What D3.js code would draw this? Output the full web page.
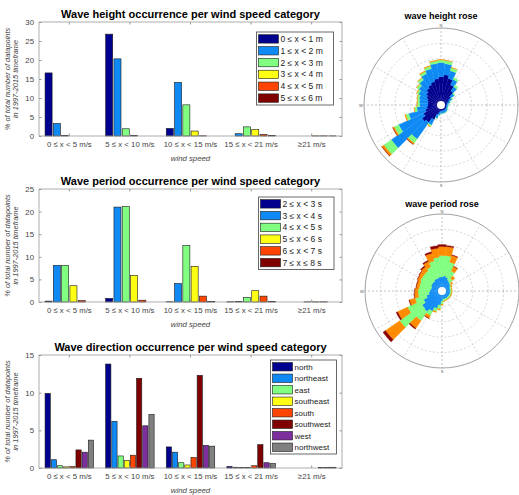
<!DOCTYPE html>
<html>
<head>
<meta charset="utf-8">
<script src="https://cdn.jsdelivr.net/npm/d3@7"></script>
<style>
  body { margin: 0; background: #fff; }
  svg { display: block; font-family: "Liberation Sans", Arial, sans-serif; }
</style>
</head>
<body>
<div id="chart"></div>
<script>
// wind speed classes (x axis of the three bar charts)
const windCats = ["0 ≤ x < 5 m/s", "5 ≤ x < 10 m/s", "10 ≤ x < 15 m/s", "15 ≤ x < 21 m/s", "≥21 m/s"];

// wave height classes, one row per class, one value per wind class (%)
const heightCats = ["0 ≤ x < 1 m", "1 ≤ x < 2 m", "2 ≤ x < 3 m", "3 ≤ x < 4 m", "4 ≤ x < 5 m", "5 ≤ x ≤ 6 m"];
const heightValues = [
  [16.6, 26.8, 2.0, 0, 0],
  [3.3, 20.3, 14.1, 0.6, 0],
  [0.1, 1.9, 8.2, 2.4, 0],
  [0, 0.1, 1.3, 1.7, 0.04],
  [0, 0, 0.05, 0.4, 0.04],
  [0, 0, 0, 0.1, 0.03]
];

// wave period classes
const periodCats = ["2 ≤ x < 3 s", "3 ≤ x < 4 s", "4 ≤ x < 5 s", "5 ≤ x < 6 s", "6 ≤ x < 7 s", "7 ≤ x ≤ 8 s"];
const periodValues = [
  [0.2, 0.8, 0.05, 0.05, 0],
  [8.1, 21.0, 4.1, 0.1, 0],
  [8.1, 21.1, 12.5, 1.0, 0.04],
  [3.6, 5.9, 7.9, 2.5, 0.04],
  [0.3, 0.4, 1.3, 1.3, 0.04],
  [0, 0, 0.1, 0.1, 0]
];

// wave direction classes
const dirCats = ["north", "northeast", "east", "southeast", "south", "southwest", "west", "northwest"];
const dirValues = [
  [9.9, 13.8, 2.8, 0.2, 0],
  [1.1, 6.2, 2.1, 0.1, 0],
  [0.3, 1.6, 0.7, 0.05, 0],
  [0.15, 1.0, 0.4, 0.05, 0],
  [0.2, 1.7, 1.4, 0.3, 0],
  [2.4, 11.9, 12.3, 3.1, 0.05],
  [2.1, 5.6, 3.0, 0.7, 0.05],
  [3.7, 7.1, 2.9, 0.6, 0.1]
];

const heightTicks = [0, 5, 10, 15, 20, 25, 30];
const periodTicks = [0, 5, 10, 15, 20, 25];
const dirTicks = [0, 5, 10, 15];

const classColors = ["#00008f", "#0f8af5", "#80ff80", "#ffff14", "#ff4500", "#800000"];
const dirColors = ["#00008f", "#0f8af5", "#80ff80", "#ffff14", "#ff4500", "#800000", "#7e2f9e", "#808080"];

// rose bins: direction centres (deg) and stacked frequency per class (%)
const roseDirs = d3.range(0, 360, 10);
const roseHeight = [
  [1.84, 1.97, 1.78, 1.45, 1.12, 0.79, 0.59, 0.46, 0.39, 0.36, 0.36, 0.36, 0.36, 0.39, 0.39, 0.39, 0.39, 0.39,
   0.39, 0.46, 0.66, 1.05, 1.38, 1.51, 1.25, 1.05, 0.92, 0.86, 0.86, 0.92, 1.05, 1.18, 1.32, 1.45, 1.58, 1.71],
  [0.92, 0.72, 0.53, 0.39, 0.33, 0.26, 0.20, 0.16, 0.13, 0.10, 0.10, 0.10, 0.10, 0.13, 0.16, 0.16, 0.16, 0.16,
   0.16, 0.20, 0.23, 0.39, 1.32, 2.43, 1.78, 1.12, 0.66, 0.53, 0.56, 0.56, 0.56, 0.59, 0.66, 0.79, 0.86, 0.99],
  [0.16, 0.20, 0.20, 0.13, 0.13, 0.07, 0.07, 0.03, 0.01, 0.01, 0.01, 0.01, 0.01, 0.01, 0.01, 0.01, 0.01, 0.01,
   0.01, 0.02, 0.03, 0.10, 0.33, 0.59, 0.33, 0.20, 0.16, 0.16, 0.13, 0.13, 0.13, 0.16, 0.16, 0.16, 0.16, 0.16],
  [0.03, 0.02, 0.02, 0, 0, 0, 0, 0, 0, 0, 0, 0, 0, 0, 0, 0, 0, 0,
   0, 0, 0, 0.03, 0.10, 0.16, 0.10, 0.07, 0.03, 0.03, 0.03, 0.03, 0.03, 0.03, 0.03, 0.05, 0.05, 0.05],
  [0, 0, 0, 0, 0, 0, 0, 0, 0, 0, 0, 0, 0, 0, 0, 0, 0, 0,
   0, 0, 0, 0, 0.01, 0.02, 0.01, 0, 0, 0, 0, 0, 0, 0, 0, 0, 0, 0]
];
const rosePeriod = [
  [0, 0, 0, 0, 0, 0, 0, 0, 0, 0, 0, 0, 0, 0, 0, 0, 0, 0,
   0, 0, 0, 0, 0, 0, 0, 0, 0, 0, 0, 0, 0, 0, 0, 0, 0, 0],
  [0.92, 0.99, 0.92, 0.79, 0.72, 0.66, 0.59, 0.53, 0.53, 0.53, 0.53, 0.53, 0.53, 0.53, 0.53, 0.53, 0.53, 0.53,
   0.66, 0.92, 1.18, 1.45, 1.64, 1.58, 1.32, 1.05, 0.86, 0.79, 0.72, 0.72, 0.79, 0.79, 0.79, 0.86, 0.86, 0.92],
  [1.38, 1.32, 1.02, 0.64, 0.26, 0.10, 0.07, 0.10, 0.10, 0.10, 0.10, 0.10, 0.10, 0.10, 0.10, 0.10, 0.10, 0.16,
   0.20, 0.26, 0.20, 0.31, 0.72, 1.78, 1.15, 0.76, 0.70, 0.77, 0.77, 0.77, 0.77, 0.77, 0.79, 0.86, 1.15, 1.28],
  [0.59, 0.59, 0.46, 0.33, 0.20, 0.10, 0.07, 0.03, 0.03, 0.03, 0.03, 0.03, 0.03, 0.03, 0.03, 0.03, 0.03, 0.03,
   0.07, 0.07, 0.07, 0.20, 0.59, 1.12, 0.72, 0.39, 0.26, 0.20, 0.20, 0.20, 0.20, 0.26, 0.33, 0.39, 0.53, 0.59],
  [0.13, 0.07, 0.03, 0.02, 0, 0, 0, 0, 0, 0, 0, 0, 0, 0, 0, 0, 0, 0,
   0, 0, 0, 0.02, 0.07, 0.20, 0.10, 0.03, 0.02, 0.02, 0.02, 0.02, 0.02, 0.02, 0.07, 0.07, 0.10, 0.16]
];
const roseRings = [1, 2, 3, 4, 5];
const roseColors = ["#00008f", "#0f8af5", "#80ff80", "#ff8c00", "#8b0000"];

const W = 519, H = 495;
const svg = d3.select("#chart").append("svg")
  .attr("width", W)
  .attr("height", H);

function drawBarChart(o) {
  const g = svg.append("g");
  const left = 39, right = 342;

  const x0 = d3.scaleBand().domain(windCats).range([left, right])
    .paddingInner(0.2).paddingOuter(0.1);
  const x1 = d3.scaleBand().domain(o.cats).range([0, x0.bandwidth()]).paddingInner(0.15);
  const y = d3.scaleLinear().domain([0, o.ymax]).range([o.bottom, o.top]);

  // bars
  o.values.forEach((row, si) => {
    g.append("g").selectAll("rect")
      .data(row.map((v, i) => ({ v, cat: windCats[i] })).filter(d => d.v > 0))
      .join("rect")
      .attr("x", d => x0(d.cat) + x1(o.cats[si]))
      .attr("y", d => y(d.v))
      .attr("width", x1.bandwidth())
      .attr("height", d => y(0) - y(d.v))
      .attr("fill", o.colors[si])
      .attr("stroke", "#1a1a1a")
      .attr("stroke-width", 0.6);
  });

  // box
  g.append("rect")
    .attr("x", left).attr("y", o.top)
    .attr("width", right - left).attr("height", o.bottom - o.top)
    .attr("fill", "none").attr("stroke", "#999").attr("stroke-width", 0.8);

  const axisStyle = sel => {
    sel.select(".domain").remove();
    sel.selectAll(".tick line").attr("stroke", "#999");
    sel.selectAll(".tick text").attr("fill", "#444").attr("font-size", "7.8px");
  };

  g.append("g").attr("transform", `translate(${left},0)`)
    .call(d3.axisLeft(y).tickValues(o.yticks).tickSize(-2.5).tickPadding(5))
    .call(axisStyle);
  g.append("g").attr("transform", `translate(${right},0)`)
    .call(d3.axisRight(y).tickValues(o.yticks).tickSize(-2.5).tickFormat(""))
    .call(axisStyle);
  g.append("g").attr("transform", `translate(0,${o.bottom})`)
    .call(d3.axisBottom(x0).tickSize(-2.5).tickPadding(5))
    .call(axisStyle);
  g.append("g").attr("transform", `translate(0,${o.top})`)
    .call(d3.axisTop(x0).tickSize(-2.5).tickFormat(""))
    .call(axisStyle);

  // title and labels
  g.append("text")
    .attr("x", (left + right) / 2).attr("y", o.top - 4)
    .attr("text-anchor", "middle")
    .attr("font-size", "11px").attr("font-weight", "bold")
    .text(o.title);

  g.append("text")
    .attr("x", (left + right) / 2).attr("y", o.bottom + 25)
    .attr("text-anchor", "middle")
    .attr("font-size", "7.8px").attr("font-style", "italic").attr("fill", "#444")
    .text("wind speed");

  const ymid = (o.top + o.bottom) / 2;
  const yl = g.append("text")
    .attr("transform", `translate(9.5,${ymid}) rotate(-90)`)
    .attr("text-anchor", "middle")
    .attr("font-size", "7.4px").attr("font-style", "italic").attr("fill", "#444");
  yl.append("tspan").attr("x", 0).attr("dy", 0).text("% of total number of datapoints");
  yl.append("tspan").attr("x", 0).attr("dy", 8).text("in 1997-2015 timeframe");

  // legend
  const L = o.legend;
  const lg = g.append("g");
  lg.append("rect")
    .attr("x", L.x).attr("y", L.y).attr("width", L.w).attr("height", L.h)
    .attr("fill", "#fff").attr("stroke", "#444").attr("stroke-width", 0.8);
  const rowH = (L.h - 2) / o.cats.length;
  o.cats.forEach((c, i) => {
    const cy = L.y + 1 + rowH * (i + 0.5);
    lg.append("rect")
      .attr("x", L.x + 2).attr("y", cy - 4.2)
      .attr("width", 20).attr("height", 8.4)
      .attr("fill", o.colors[i]).attr("stroke", "#1a1a1a").attr("stroke-width", 0.6);
    lg.append("text")
      .attr("x", L.x + 24).attr("y", cy + 3)
      .attr("font-size", L.fs).attr("fill", "#222")
      .text(c);
  });
}

drawBarChart({
  title: "Wave height occurrence per wind speed category",
  cats: heightCats, values: heightValues, colors: classColors,
  ymax: 30, yticks: heightTicks, top: 22, bottom: 136,
  legend: { x: 256.5, y: 32, w: 77, h: 73, fs: "8.5px" }
});

drawBarChart({
  title: "Wave period occurrence per wind speed category",
  cats: periodCats, values: periodValues, colors: classColors,
  ymax: 25, yticks: periodTicks, top: 189, bottom: 302,
  legend: { x: 258.5, y: 197, w: 75.5, h: 72.5, fs: "8.5px" }
});

drawBarChart({
  title: "Wave direction occurrence per wind speed category",
  cats: dirCats, values: dirValues, colors: dirColors,
  ymax: 15, yticks: dirTicks, top: 355, bottom: 468,
  legend: { x: 270.5, y: 360, w: 66, h: 94, fs: "8px" }
});

function drawRose(o) {
  const g = svg.append("g").attr("transform", `translate(${o.cx},${o.cy})`);
  const r = d3.scaleLinear().domain([0, 5]).range([0, o.R]);
  const rad = d => d * Math.PI / 180;

  // grid
  roseRings.slice(0, -1).forEach(k => {
    g.append("circle").attr("r", r(k))
      .attr("fill", "none").attr("stroke", "#bbb")
      .attr("stroke-width", 0.6).attr("stroke-dasharray", "2,2");
  });
  d3.range(0, 360, 30).forEach(a => {
    g.append("line")
      .attr("x1", 0).attr("y1", 0)
      .attr("x2", r(5) * Math.sin(rad(a))).attr("y2", -r(5) * Math.cos(rad(a)))
      .attr("stroke", a % 90 === 0 ? "#999" : "#bbb")
      .attr("stroke-width", 0.6).attr("stroke-dasharray", "2,2");
  });

  // stacked wedges
  const arc = d3.arc();
  const cum = roseDirs.map(() => 0);
  o.layers.forEach((vals, li) => {
    const segs = roseDirs.map((d, i) => {
      const s = { dir: d, r0: cum[i], r1: cum[i] + vals[i] };
      cum[i] += vals[i];
      return s;
    }).filter(s => s.r1 > s.r0);
    g.append("g").selectAll("path")
      .data(segs)
      .join("path")
      .attr("d", s => arc({
        innerRadius: r(s.r0), outerRadius: r(s.r1),
        startAngle: rad(s.dir - 5), endAngle: rad(s.dir + 5)
      }))
      .attr("fill", roseColors[li])
      .attr("stroke", roseColors[li])
      .attr("stroke-width", 0.3);
  });

  g.append("circle").attr("r", r(5))
    .attr("fill", "none").attr("stroke", "#888").attr("stroke-width", 0.8);
  g.append("circle").attr("r", 4).attr("fill", "#fff");

  // compass letters (the east one falls outside the window)
  const letters = [["N", 0], ["S", 180], ["W", 270]];
  letters.forEach(([t, a]) => {
    g.append("text")
      .attr("x", (r(5) + 3) * Math.sin(rad(a)))
      .attr("y", -(r(5) + 3) * Math.cos(rad(a)) + 1.5)
      .attr("text-anchor", "middle")
      .attr("font-size", "4px").attr("fill", "#555")
      .text(t);
  });

  svg.append("text")
    .attr("x", o.cx).attr("y", o.titleY)
    .attr("text-anchor", "middle")
    .attr("font-size", "9px").attr("font-weight", "bold")
    .text(o.title);
}

drawRose({ title: "wave height rose", layers: roseHeight, cx: 441, cy: 105, R: 77, titleY: 19 });
drawRose({ title: "wave period rose", layers: rosePeriod, cx: 442, cy: 291, R: 77, titleY: 206.5 });
</script>
</body>
</html>
